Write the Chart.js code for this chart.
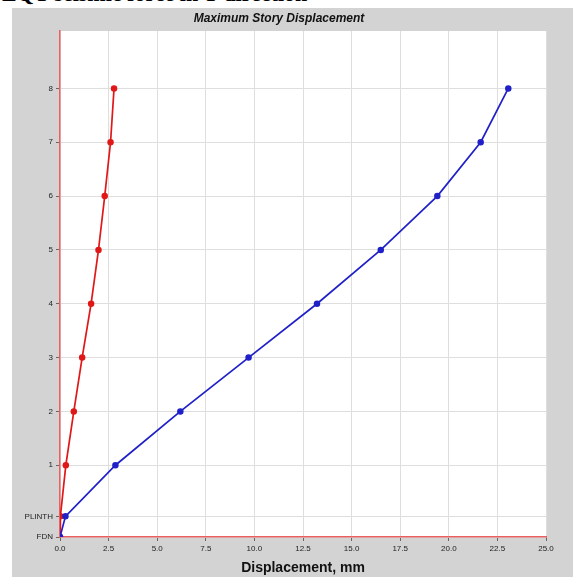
<!DOCTYPE html>
<html>
<head>
<meta charset="utf-8">
<script src="https://cdn.jsdelivr.net/npm/chart.js@4/dist/chart.umd.min.js"></script>
<style>
  html, body { margin: 0; padding: 0; background: #fff; overflow: hidden; }
  #wrap { position: relative; width: 573px; height: 577px; }
  #caption {
    position: absolute; left: 2px; top: -19px;
    font: bold 22px "Liberation Serif", serif; color: #000; white-space: nowrap;
  }
  canvas { position: absolute; left: 0; top: 0; }
</style>
</head>
<body>
<div id="wrap">
  <div id="caption">EQY seismic force in Y direction</div>
  <canvas id="chart" width="573" height="577"></canvas>
</div>
<script>
// story levels (y axis) and their elevations, m
const levels = ["FDN", "PLINTH", "1", "2", "3", "4", "5", "6", "7", "8"];
const elevations = [0, 1.15, 4, 7, 10, 13, 16, 19, 22, 25];

// max displacement per level, mm
const redDisp = [0, 0.02, 0.30, 0.71, 1.14, 1.60, 1.98, 2.30, 2.60, 2.78];
const blueDisp = [0, 0.28, 2.85, 6.19, 9.70, 13.22, 16.50, 19.41, 21.64, 23.06];

function toPoints(disp) {
    return disp.map((d, i) => ({ x: d, y: elevations[i] }));
}

// gray panel + white plot area
const panelBg = {
    id: "panelBg",
    beforeDraw(chart) {
        const ctx = chart.ctx;
        const a = chart.chartArea;
        ctx.save();
        ctx.fillStyle = "#d3d3d3";
        ctx.fillRect(12, 8, chart.width - 12, chart.height - 8);
        ctx.fillStyle = "#ffffff";
        ctx.fillRect(a.left, a.top, a.right - a.left, a.bottom - a.top);
        ctx.restore();
    }
};

const ctx = document.getElementById("chart").getContext("2d");
new Chart(ctx, {
    type: "scatter",
    data: {
        datasets: [
            {
                label: "EQX",
                data: toPoints(blueDisp),
                showLine: true,
                borderColor: "#2020c8",
                backgroundColor: "#2020c8",
                borderWidth: 1.7,
                pointRadius: 2.4,
                pointHoverRadius: 2.4
            },
            {
                label: "EQY",
                data: toPoints(redDisp),
                showLine: true,
                borderColor: "#e01818",
                backgroundColor: "#e01818",
                borderWidth: 1.7,
                pointRadius: 2.4,
                pointHoverRadius: 2.4
            }
        ]
    },
    options: {
        responsive: false,
        animation: false,
        layout: { padding: { left: 12, top: 8, right: 27, bottom: 0 } },
        plugins: {
            legend: { display: false },
            tooltip: { enabled: false },
            title: {
                display: true,
                text: "Maximum Story Displacement",
                color: "#111",
                font: { family: "Liberation Sans", size: 12, weight: "bold", style: "italic" },
                padding: { top: 3, bottom: 5.6 }
            }
        },
        scales: {
            x: {
                type: "linear",
                min: 0,
                max: 25,
                ticks: {
                    stepSize: 2.5,
                    color: "#222",
                    font: { family: "Liberation Sans", size: 8 },
                    padding: 3,
                    callback: (v) => Number(v).toFixed(1)
                },
                grid: { color: "#dedede", tickLength: 4, tickColor: "#666" },
                border: { color: "#e86060", width: 1.5 },
                title: {
                    display: true,
                    text: "Displacement, mm",
                    color: "#111",
                    font: { family: "Liberation Sans", size: 14, weight: "bold" },
                    padding: { top: 1, bottom: 0 }
                },
                afterFit(scale) { scale.height = 40; }
            },
            y: {
                type: "linear",
                min: 0,
                max: 28.2,
                afterBuildTicks(scale) {
                    scale.ticks = elevations.map((v) => ({ value: v }));
                },
                ticks: {
                    color: "#222",
                    font: { family: "Liberation Sans", size: 8 },
                    padding: 3,
                    autoSkip: false,
                    callback: (v) => {
                        const i = elevations.indexOf(v);
                        return i >= 0 ? levels[i] : "";
                    }
                },
                grid: { color: "#dedede", tickLength: 4, tickColor: "#666" },
                border: { color: "#e86060", width: 1.5 },
                afterFit(scale) { scale.width = 48; }
            }
        }
    },
    plugins: [panelBg]
});
</script>
</body>
</html>
